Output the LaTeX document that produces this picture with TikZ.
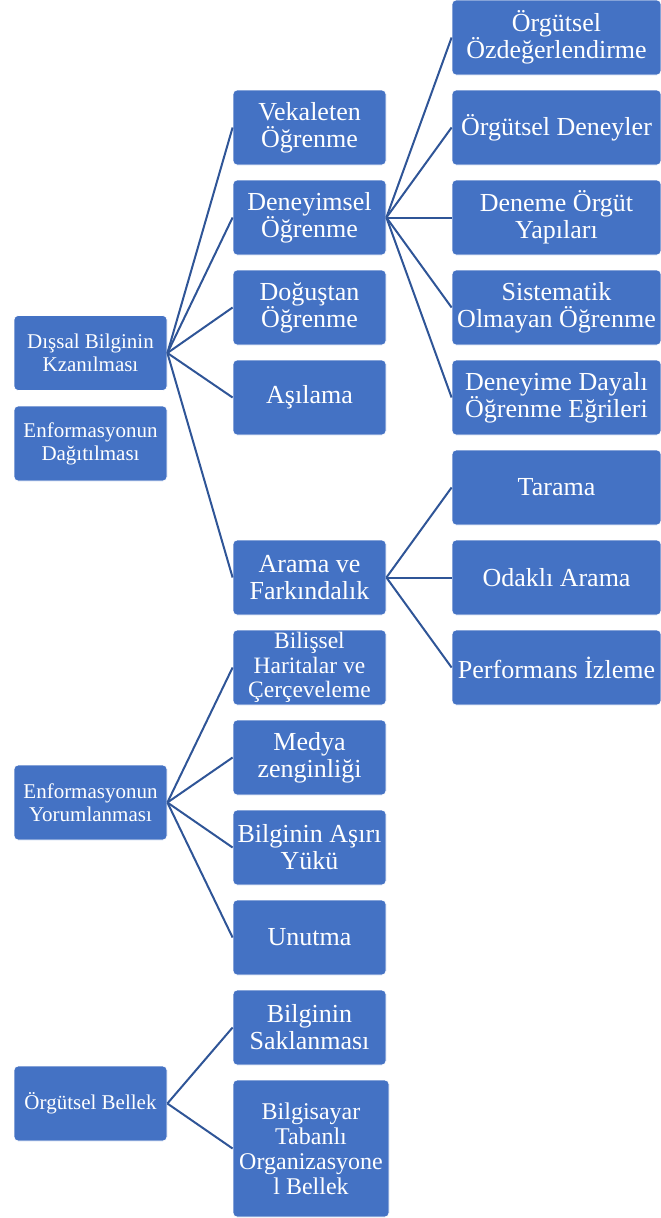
\documentclass[tikz,border=0pt]{standalone}
\usepackage{fontspec}
\setmainfont{Liberation Serif}
\definecolor{boxblue}{HTML}{4472C4}
\definecolor{linkblue}{HTML}{2F5597}
\begin{document}
\begin{tikzpicture}[x=1pt,y=-1pt,
  basebox/.style={rectangle, rounded corners=4pt, fill=boxblue, draw=white, line width=0.8pt,
    text=white, align=center, inner sep=0pt, minimum height=75pt},
  lvlone/.style={basebox, minimum width=153pt, font=\fontsize{21}{23}\selectfont},
  lvltwo/.style={basebox, minimum width=153pt, font=\fontsize{26}{27}\selectfont},
  lvlthree/.style={basebox, minimum width=209pt, font=\fontsize{26}{27}\selectfont},
  link/.style={draw=linkblue, line width=2pt}]
\useasboundingbox (0,0) rectangle (661,1218);

% first level
\node[lvlone] (dis)  at (90.5,353)   {Dışsal Bilginin\\Kzanılması};
\node[lvlone] (dag)  at (90.5,443.5) {Enformasyonun\\Dağıtılması};
\node[lvlone] (yor)  at (90.5,802.5) {Enformasyonun\\Yorumlanması};
\node[lvlone] (bel)  at (90.5,1103.5) {Örgütsel Bellek};

% second level
\node[lvltwo] (vek)  at (309.5,127.5) {Vekaleten\\Öğrenme};
\node[lvltwo] (den)  at (309.5,217.5) {Deneyimsel\\Öğrenme};
\node[lvltwo] (dog)  at (309.5,307.5) {Doğuştan\\Öğrenme};
\node[lvltwo] (asi)  at (309.5,397.5) {Aşılama};
\node[lvltwo] (ara)  at (309.5,577.5) {Arama ve\\Farkındalık};
\node[lvltwo, font=\fontsize{23.5}{24.5}\selectfont] (bil)  at (309.5,667.5) {Bilişsel\\Haritalar ve\\Çerçeveleme};
\node[lvltwo] (med)  at (309.5,757.5) {Medya\\zenginliği};
\node[lvltwo] (asr)  at (309.5,847.5) {Bilginin Aşırı\\Yükü};
\node[lvltwo] (unu)  at (309.5,937.5) {Unutma};
\node[lvltwo] (sak)  at (309.5,1027.5) {Bilginin\\Saklanması};
\node[lvltwo, minimum width=156pt, minimum height=137pt, font=\fontsize{24}{25}\selectfont] (bta) at (311,1148.5)
  {Bilgisayar\\Tabanlı\\Organizasyone\\l Bellek};

% third level
\node[lvlthree] (ozd) at (556.5,37.5)  {Örgütsel\\Özdeğerlendirme};
\node[lvlthree] (ode) at (556.5,127.5) {Örgütsel Deneyler};
\node[lvlthree] (dey) at (556.5,217.5) {Deneme Örgüt\\Yapıları};
\node[lvlthree] (sis) at (556.5,307.5) {Sistematik\\Olmayan Öğrenme};
\node[lvlthree] (dde) at (556.5,397.5) {Deneyime Dayalı\\Öğrenme Eğrileri};
\node[lvlthree] (tar) at (556.5,487.5) {Tarama};
\node[lvlthree] (oda) at (556.5,577.5) {Odaklı Arama};
\node[lvlthree] (per) at (556.5,667.5) {Performans İzleme};

% connectors
\foreach \c in {vek,den,dog,asi,ara} \draw[link] (dis.east) -- (\c.west);
\foreach \c in {ozd,ode,dey,sis,dde} \draw[link] (den.east) -- (\c.west);
\foreach \c in {tar,oda,per} \draw[link] (ara.east) -- (\c.west);
\foreach \c in {bil,med,asr,unu} \draw[link] (yor.east) -- (\c.west);
\foreach \c in {sak,bta} \draw[link] (bel.east) -- (\c.west);
\end{tikzpicture}
\end{document}
